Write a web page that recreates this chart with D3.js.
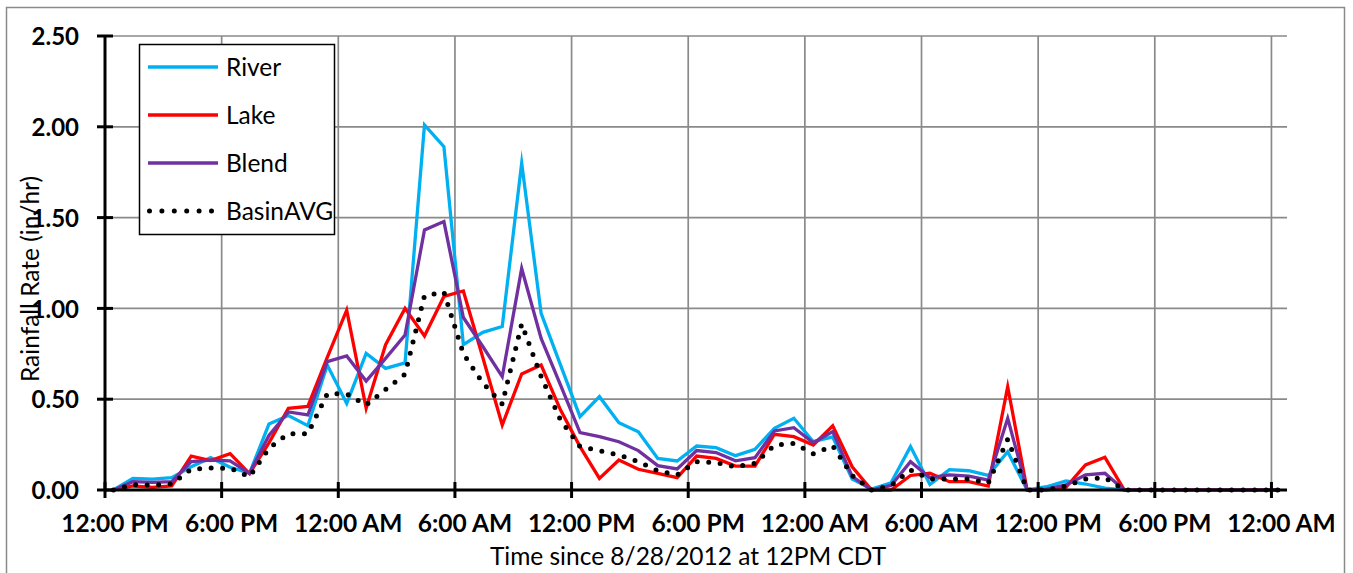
<!DOCTYPE html>
<html>
<head>
<meta charset="utf-8">
<script src="https://cdn.jsdelivr.net/npm/d3@7"></script>
<style>
  html, body { margin: 0; padding: 0; background: #fff; }
  svg { display: block; }
  text { font-family: Lato, "Open Sans", sans-serif; fill: #000; }
</style>
</head>
<body>
<svg id="chart" width="1353" height="573"></svg>
<script>
// Hourly rainfall rates (in/hr), first sample 26 minutes after 12 PM CDT on 8/28/2012
const sampleOffsetHours = 26 / 60;
const river = [0, 0.064, 0.06, 0.068, 0.128, 0.178, 0.125, 0.092, 0.363, 0.41,
  0.354, 0.688, 0.477, 0.752, 0.67, 0.70, 2.01, 1.89, 0.80, 0.868,
  0.90, 1.80, 0.973, 0.688, 0.404, 0.514, 0.371, 0.321, 0.174, 0.16,
  0.242, 0.233, 0.189, 0.224, 0.34, 0.395, 0.266, 0.292, 0.06, 0.005,
  0.04, 0.239, 0.03, 0.112, 0.106, 0.08, 0.211, 0, 0.018, 0.05,
  0.033, 0.01, 0, 0, 0, 0, 0, 0, 0, 0, 0];
const lake = [0, 0.022, 0.015, 0.022, 0.187, 0.162, 0.20, 0.09, 0.26, 0.45,
  0.46, 0.73, 0.99, 0.45, 0.80, 1.00, 0.848, 1.066, 1.096, 0.73,
  0.358, 0.639, 0.688, 0.44, 0.239, 0.064, 0.165, 0.114, 0.092, 0.068,
  0.187, 0.174, 0.132, 0.132, 0.307, 0.294, 0.248, 0.354, 0.128, 0,
  0, 0.08, 0.092, 0.046, 0.046, 0.022, 0.569, 0, 0, 0.015,
  0.138, 0.18, 0, 0, 0, 0, 0, 0, 0, 0, 0];
const blend = [0, 0.046, 0.042, 0.046, 0.156, 0.165, 0.16, 0.092, 0.30, 0.43,
  0.413, 0.707, 0.738, 0.60, 0.725, 0.853, 1.432, 1.478, 0.95, 0.79,
  0.624, 1.22, 0.835, 0.578, 0.316, 0.294, 0.266, 0.217, 0.134, 0.116,
  0.217, 0.206, 0.161, 0.178, 0.325, 0.343, 0.26, 0.322, 0.075, 0,
  0.025, 0.156, 0.068, 0.083, 0.077, 0.055, 0.395, 0, 0.005, 0.028,
  0.083, 0.092, 0, 0, 0, 0, 0, 0, 0, 0, 0];
const basinAvg = [0, 0.03, 0.026, 0.033, 0.114, 0.121, 0.12, 0.073, 0.23, 0.31,
  0.31, 0.53, 0.53, 0.468, 0.554, 0.637, 1.07, 1.09, 0.75, 0.59,
  0.474, 0.914, 0.625, 0.385, 0.239, 0.217, 0.193, 0.156, 0.106, 0.083,
  0.156, 0.15, 0.128, 0.147, 0.246, 0.257, 0.20, 0.243, 0.08, 0,
  0.025, 0.11, 0.06, 0.06, 0.06, 0.038, 0.279, 0, 0, 0.022,
  0.06, 0.068, 0, 0, 0, 0, 0, 0, 0, 0, 0];

const seriesNames = ["River", "Lake", "Blend", "BasinAVG"];
const yTicks = [0, 0.5, 1.0, 1.5, 2.0, 2.5];
const xTickHours = [0, 6, 12, 18, 24, 30, 36, 42, 48, 54, 60];
const xTickLabels = ["12:00 PM", "6:00 PM", "12:00 AM", "6:00 AM", "12:00 PM", "6:00 PM",
  "12:00 AM", "6:00 AM", "12:00 PM", "6:00 PM", "12:00 AM"];

const hours = river.map((_, i) => i + sampleOffsetHours);

const plot = { left: 105, right: 1287, top: 36, bottom: 490 };
const svg = d3.select("#chart");

const x = d3.scaleLinear().domain([0, 60.8]).range([plot.left, plot.right]);
const y = d3.scaleLinear().domain([0, 2.5]).range([plot.bottom, plot.top]);

// chart frame
svg.append("rect")
  .attr("x", 6.5).attr("y", 7.5).attr("width", 1338).attr("height", 600)
  .attr("fill", "#fff").attr("stroke", "#8a8a8a").attr("stroke-width", 1.5);

// gridlines
const grid = svg.append("g").attr("stroke", "#8a8a8a").attr("stroke-width", 1.7);
grid.selectAll("line.h").data(yTicks.filter(v => v > 0)).join("line")
  .attr("x1", plot.left).attr("x2", plot.right)
  .attr("y1", d => y(d)).attr("y2", d => y(d));
grid.selectAll("line.v").data(xTickHours.filter(h => h > 0)).join("line")
  .attr("y1", plot.top).attr("y2", plot.bottom)
  .attr("x1", d => x(d)).attr("x2", d => x(d));

// series
const line = d3.line().x((d, i) => x(hours[i])).y(d => y(d));
const styles = [
  { data: river, color: "#00b0f0", width: 3.3 },
  { data: lake, color: "#ff0000", width: 3.3 },
  { data: blend, color: "#7030a0", width: 3.3 },
  { data: basinAvg, color: "#000", width: 5, dots: true }
];
styles.forEach(s => {
  const p = svg.append("path").datum(s.data)
    .attr("d", line)
    .attr("fill", "none")
    .attr("stroke", s.color)
    .attr("stroke-width", s.width);
  if (s.dots) p.attr("stroke-dasharray", "0 11.5").attr("stroke-linecap", "round");
  else p.attr("stroke-linejoin", "miter").attr("stroke-miterlimit", 10);
});

// axes
const axes = svg.append("g").attr("stroke", "#000").attr("stroke-width", 3);
axes.append("line").attr("x1", plot.left).attr("x2", plot.left)
  .attr("y1", plot.top).attr("y2", plot.bottom);
axes.append("line").attr("x1", plot.left).attr("x2", plot.right)
  .attr("y1", plot.bottom).attr("y2", plot.bottom);
axes.selectAll("line.yt").data(yTicks).join("line")
  .attr("x1", plot.left - 8).attr("x2", plot.left + 8)
  .attr("y1", d => y(d)).attr("y2", d => y(d));
axes.selectAll("line.xt").data(xTickHours).join("line")
  .attr("x1", d => x(d)).attr("x2", d => x(d))
  .attr("y1", plot.bottom - 8).attr("y2", plot.bottom + 8);

// tick labels via d3 axes
const yAxis = d3.axisLeft(y).tickValues(yTicks).tickFormat(d3.format(".2f"))
  .tickSize(0).tickPadding(26);
const gy = svg.append("g").attr("transform", `translate(${plot.left},0)`).call(yAxis);
gy.select(".domain").remove();
gy.selectAll("text").attr("font-size", 24).attr("font-weight", 700)
  .attr("font-family", "Lato").attr("dy", "0.36em");

// date labels sit a little right of their tick marks
const xAxis = d3.axisBottom(x).tickValues(xTickHours)
  .tickFormat((d, i) => xTickLabels[i]).tickSize(0).tickPadding(25);
const gx = svg.append("g").attr("transform", `translate(9.5,${plot.bottom})`).call(xAxis);
gx.select(".domain").remove();
gx.selectAll("text").attr("font-size", 24.5).attr("font-weight", 700)
  .attr("font-family", "Lato");

// axis titles
svg.append("text")
  .attr("transform", "translate(39,279) rotate(-90)")
  .attr("text-anchor", "middle")
  .attr("font-size", 24.5)
  .text("Rainfall Rate (in/hr)");
svg.append("text")
  .attr("x", 688).attr("y", 565)
  .attr("text-anchor", "middle")
  .attr("font-size", 24.5)
  .text("Time since 8/28/2012 at 12PM CDT");

// legend
const legend = svg.append("g");
legend.append("rect").attr("x", 139.5).attr("y", 44.5).attr("width", 195).attr("height", 190)
  .attr("fill", "#fff").attr("stroke", "#000").attr("stroke-width", 1.5);
const legendY = [67, 115, 163, 211];
seriesNames.forEach((name, i) => {
  const s = styles[i];
  const l = legend.append("line")
    .attr("x1", s.dots ? 149.5 : 148).attr("x2", s.dots ? 212 : 218)
    .attr("y1", legendY[i]).attr("y2", legendY[i])
    .attr("stroke", s.color).attr("stroke-width", s.width);
  if (s.dots) l.attr("stroke-dasharray", "0 12.4").attr("stroke-linecap", "round");
  legend.append("text").attr("x", 226).attr("y", legendY[i]).attr("dy", "0.36em")
    .attr("font-size", 24.5).text(name);
});
</script>
</body>
</html>
